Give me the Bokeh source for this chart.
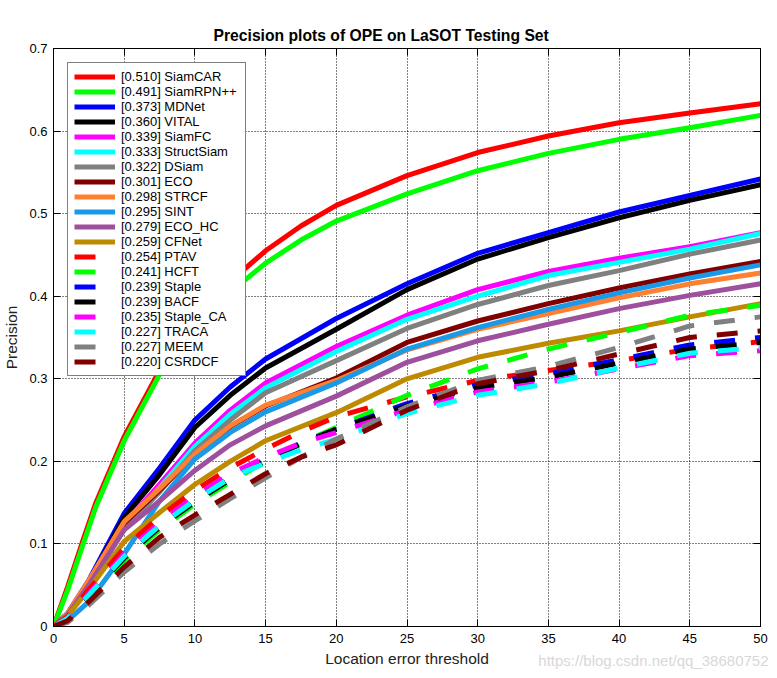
from bokeh.plotting import figure
from bokeh.models import (LinearAxis, FixedTicker, Legend, LegendItem, Title,
                          Range1d)
from bokeh.embed import file_html
from bokeh.resources import INLINE

# ---------------- data ----------------
x_top = [0, 1, 2, 3, 4, 5, 7.5, 10, 12.5, 15, 17.5, 20, 25, 30, 35, 40, 45, 50]
siamcar = [0, 0.048, 0.1, 0.15, 0.19, 0.23, 0.31, 0.37, 0.418, 0.455, 0.485,
           0.51, 0.546, 0.574, 0.594, 0.61, 0.622, 0.633]
siamrpnpp = [0, 0.044, 0.095, 0.145, 0.185, 0.225, 0.305, 0.36, 0.405, 0.44,
             0.468, 0.491, 0.524, 0.552, 0.573, 0.59, 0.604, 0.619]

x_solid = [0, 1, 2.5, 5, 7.5, 10, 12.5, 15, 20, 25, 30, 35, 40, 45, 50]
mdnet = [0, 0.016, 0.056, 0.137, 0.192, 0.25, 0.29, 0.324, 0.373, 0.415,
         0.452, 0.477, 0.502, 0.522, 0.542]
vital = [0, 0.015, 0.054, 0.132, 0.184, 0.241, 0.28, 0.313, 0.360, 0.408,
         0.445, 0.471, 0.495, 0.516, 0.535]
siamfc = [0, 0.014, 0.05, 0.124, 0.172, 0.222, 0.262, 0.295, 0.339, 0.377,
          0.408, 0.43, 0.446, 0.46, 0.477]
structsiam = [0, 0.014, 0.05, 0.12, 0.168, 0.218, 0.257, 0.289, 0.333, 0.372,
              0.40, 0.425, 0.441, 0.457, 0.476]
dsiam = [0, 0.013, 0.048, 0.118, 0.163, 0.213, 0.25, 0.283, 0.322, 0.361,
         0.39, 0.413, 0.431, 0.451, 0.468]
eco = [0, 0.015, 0.054, 0.125, 0.165, 0.208, 0.242, 0.267, 0.301, 0.344,
       0.37, 0.391, 0.41, 0.427, 0.442]
strcf = [0, 0.016, 0.056, 0.127, 0.167, 0.209, 0.243, 0.268, 0.298, 0.335,
         0.36, 0.379, 0.398, 0.415, 0.428]
sint = [0, 0.007, 0.03, 0.088, 0.152, 0.203, 0.235, 0.26, 0.295, 0.336,
        0.362, 0.384, 0.404, 0.422, 0.438]
eco_hc = [0, 0.014, 0.05, 0.117, 0.152, 0.189, 0.22, 0.243, 0.279, 0.32,
          0.346, 0.366, 0.385, 0.401, 0.415]
cfnet = [0, 0.013, 0.045, 0.103, 0.138, 0.172, 0.2, 0.225, 0.259, 0.30,
         0.326, 0.343, 0.358, 0.375, 0.391]

x_dash = [0, 1, 2.5, 5, 7.5, 10, 12.5, 15, 17.5, 20, 25, 30, 35, 40, 45, 50]
ptav = [0, 0.012, 0.045, 0.095, 0.133, 0.165, 0.192, 0.215, 0.236, 0.254,
        0.278, 0.298, 0.31, 0.322, 0.336, 0.345]
hcft = [0, 0.008, 0.035, 0.08, 0.117, 0.148, 0.175, 0.2, 0.222, 0.241,
        0.28, 0.312, 0.336, 0.356, 0.377, 0.389]
staple = [0, 0.01, 0.038, 0.085, 0.122, 0.153, 0.18, 0.203, 0.222, 0.239,
          0.27, 0.293, 0.306, 0.323, 0.341, 0.35]
bacf = [0, 0.009, 0.037, 0.083, 0.12, 0.151, 0.178, 0.201, 0.221, 0.239,
        0.267, 0.289, 0.302, 0.319, 0.336, 0.344]
staple_ca = [0, 0.01, 0.04, 0.088, 0.126, 0.158, 0.185, 0.205, 0.222, 0.235,
             0.262, 0.284, 0.296, 0.312, 0.328, 0.334]
traca = [0, 0.01, 0.038, 0.085, 0.122, 0.153, 0.18, 0.198, 0.214, 0.227,
         0.258, 0.28, 0.294, 0.313, 0.331, 0.338]
meem = [0, 0.005, 0.026, 0.066, 0.1, 0.128, 0.155, 0.18, 0.205, 0.227,
        0.266, 0.298, 0.315, 0.338, 0.364, 0.375]
csrdcf = [0, 0.007, 0.03, 0.072, 0.108, 0.135, 0.16, 0.185, 0.205, 0.22,
          0.262, 0.294, 0.31, 0.33, 0.35, 0.358]

names = ["SiamCAR", "SiamRPN++", "MDNet", "VITAL", "SiamFC", "StructSiam",
         "DSiam", "ECO", "STRCF", "SINT", "ECO_HC", "CFNet", "PTAV", "HCFT",
         "Staple", "BACF", "Staple_CA", "TRACA", "MEEM", "CSRDCF"]
scores = ["0.510", "0.491", "0.373", "0.360", "0.339", "0.333", "0.322",
          "0.301", "0.298", "0.295", "0.279", "0.259", "0.254", "0.241",
          "0.239", "0.239", "0.235", "0.227", "0.227", "0.220"]
x_ticks = [0, 5, 10, 15, 20, 25, 30, 35, 40, 45, 50]
y_ticks = [0, 0.1, 0.2, 0.3, 0.4, 0.5, 0.6, 0.7]
y_tick_labels = ["0", "0.1", "0.2", "0.3", "0.4", "0.5", "0.6", "0.7"]

series = [
    (x_top, siamcar, "#ff0000", "solid"),
    (x_top, siamrpnpp, "#00ff00", "solid"),
    (x_solid, mdnet, "#0000ff", "solid"),
    (x_solid, vital, "#000000", "solid"),
    (x_solid, siamfc, "#ff00ff", "solid"),
    (x_solid, structsiam, "#00ffff", "solid"),
    (x_solid, dsiam, "#808080", "solid"),
    (x_solid, eco, "#800000", "solid"),
    (x_solid, strcf, "#ff8033", "solid"),
    (x_solid, sint, "#1a99e6", "solid"),
    (x_solid, eco_hc, "#9e509e", "solid"),
    (x_solid, cfnet, "#bd8a00", "solid"),
    (x_dash, ptav, "#ff0000", "dash"),
    (x_dash, hcft, "#00ff00", "dash"),
    (x_dash, staple, "#0000ff", "dash"),
    (x_dash, bacf, "#000000", "dash"),
    (x_dash, staple_ca, "#ff00ff", "dash"),
    (x_dash, traca, "#00ffff", "dash"),
    (x_dash, meem, "#808080", "dash"),
    (x_dash, csrdcf, "#800000", "dash"),
]

FONT = "Liberation Sans"

p = figure(width=772, height=674, x_range=Range1d(0, 50),
           y_range=Range1d(0, 0.7), output_backend="svg",
           toolbar_location=None, min_border_left=53, min_border_right=12,
           min_border_top=48, min_border_bottom=48)
p.background_fill_color = "white"
p.border_fill_color = "white"
p.outline_line_color = "black"
p.outline_line_width = 1

p.title.text = "Precision plots of OPE on LaSOT Testing Set"
p.title.text_font = FONT
p.title.text_font_size = "15.7px"
p.title.text_font_style = "bold"
p.title.text_color = "black"
p.title.align = "left"
p.title.offset = 160

for ax in (p.xaxis[0], p.yaxis[0]):
    ax.major_tick_in = 7
    ax.major_tick_out = 0
    ax.minor_tick_in = 0
    ax.minor_tick_out = 0
    ax.axis_line_color = "black"
    ax.major_tick_line_color = "black"
    ax.major_label_text_font = FONT
    ax.major_label_text_font_size = "13px"
    ax.major_label_text_color = "black"
    ax.axis_label_text_font = FONT
    ax.axis_label_text_font_size = "15.5px"
    ax.axis_label_text_font_style = "normal"
    ax.axis_label_text_color = "#222222"

p.xaxis.ticker = FixedTicker(ticks=x_ticks)
p.yaxis.ticker = FixedTicker(ticks=y_ticks)
p.yaxis.major_label_overrides = {t: s for t, s in zip(y_ticks, y_tick_labels)}
p.xaxis.axis_label = "Location error threshold"
p.yaxis.axis_label = "Precision"
p.xaxis.major_label_standoff = 7
p.yaxis.major_label_standoff = 6
p.xaxis.axis_label_standoff = 4
p.yaxis.axis_label_standoff = 6

for side, ticks in (("above", x_ticks), ("right", y_ticks)):
    ax = LinearAxis(ticker=FixedTicker(ticks=ticks), major_tick_in=7,
                    major_tick_out=0, minor_tick_in=0, minor_tick_out=0,
                    major_label_overrides={t: "" for t in ticks},
                    major_label_standoff=0,
                    axis_line_color="black", major_tick_line_color="black")
    p.add_layout(ax, side)

p.xgrid.grid_line_color = "black"
p.ygrid.grid_line_color = "black"
p.xgrid.grid_line_dash = "1 2"
p.ygrid.grid_line_dash = "1 2"

items = []
for (xs, ys, col, dash), name, sc in zip(series, names, scores):
    r = p.line(xs, ys, line_color=col, line_width=5,
               line_dash=("solid" if dash == "solid" else "21 20"))
    items.append(LegendItem(label="[%s] %s" % (sc, name), renderers=[r]))

legend = Legend(items=items, location="top_left", margin=14, padding=6,
                spacing=0, label_height=15, glyph_height=15, glyph_width=41,
                label_standoff=6, label_width=118, label_text_font=FONT,
                label_text_font_size="13px", label_text_color="black",
                border_line_color="black", border_line_width=1,
                background_fill_color="white", background_fill_alpha=1)
p.add_layout(legend)

watermark = Title(text="https://blog.csdn.net/qq_38680752", align="right",
                  offset=-8, vertical_align="top", standoff=-36,
                  text_font=FONT, text_font_size="15px",
                  text_font_style="normal", text_color="#d8d8d8")
p.add_layout(watermark, "below")

open("out.html", "w").write(file_html(p, INLINE))
